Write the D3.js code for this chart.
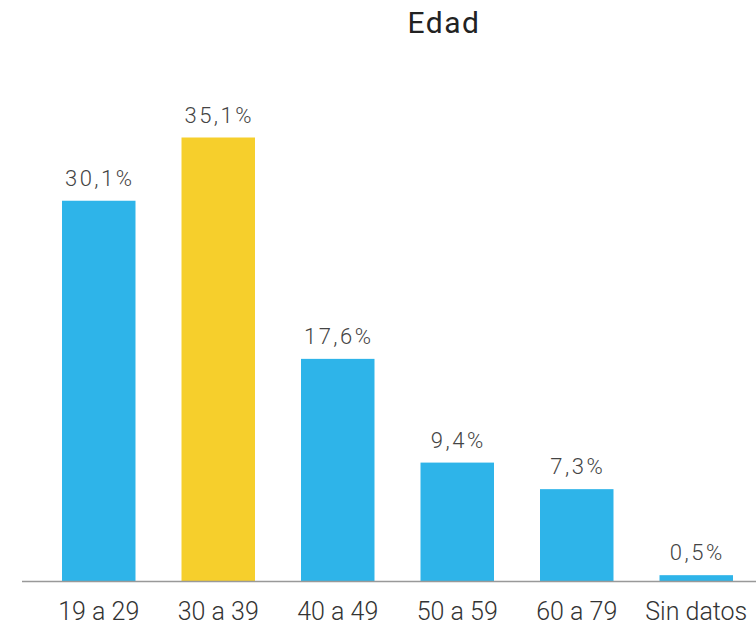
<!DOCTYPE html>
<html>
<head>
<meta charset="utf-8">
<script src="https://cdn.jsdelivr.net/npm/d3@7"></script>
<style>
  html, body { margin: 0; padding: 0; background: #fff; }
  svg { display: block; }
</style>
</head>
<body>
<svg id="chart" width="756" height="625"></svg>
<script>
const title = "Edad";
const categories = ["19 a 29", "30 a 39", "40 a 49", "50 a 59", "60 a 79", "Sin datos"];
const values = [30.1, 35.1, 17.6, 9.4, 7.3, 0.5];
const valueLabels = ["30,1%", "35,1%", "17,6%", "9,4%", "7,3%", "0,5%"];
const highlight = ["30 a 39"];

const svg = d3.select("#chart");
const baseline = 581.5;

const x = d3.scaleBand().domain(categories).range([39, 756]).paddingInner(0.385).paddingOuter(0.1925);
const y = d3.scaleLinear().domain([0, 35.1]).range([baseline, 137.5]);

const data = categories.map((c, i) => ({ c, v: values[i], label: valueLabels[i] }));

svg.append("text")
  .attr("x", 444).attr("y", 33)
  .attr("text-anchor", "middle")
  .attr("font-family", "Roboto, sans-serif")
  .attr("font-size", 30)
  .attr("letter-spacing", 1.5)
  .attr("fill", "#222")
  .text(title);

svg.selectAll("rect.bar").data(data).join("rect")
  .attr("class", "bar")
  .attr("x", d => x(d.c))
  .attr("width", x.bandwidth())
  .attr("y", d => y(d.v))
  .attr("height", d => baseline - y(d.v))
  .attr("fill", d => highlight.includes(d.c) ? "#F6CF2C" : "#2EB4E9");

svg.selectAll("text.val").data(data).join("text")
  .attr("class", "val")
  .attr("x", d => x(d.c) + x.bandwidth() / 2 + 1)
  .attr("y", d => y(d.v) - 15)
  .attr("text-anchor", "middle")
  .attr("font-family", "Roboto, sans-serif")
  .attr("font-weight", 300)
  .attr("font-size", 22)
  .attr("letter-spacing", 2.5)
  .attr("fill", "#444")
  .text(d => d.label);

const xAxis = svg.append("g")
  .attr("transform", `translate(0,${baseline})`)
  .call(d3.axisBottom(x).tickSize(0).tickPadding(0));
xAxis.select(".domain").remove();
xAxis.append("line")
  .attr("x1", 22).attr("x2", 756).attr("y1", 0).attr("y2", 0)
  .attr("stroke", "#999").attr("stroke-width", 1.5);
xAxis.selectAll(".tick text")
  .attr("dy", 0).attr("y", 38)
  .attr("font-family", "Roboto, sans-serif")
  .attr("font-weight", 300)
  .attr("font-size", 25)
  .attr("fill", "#333");
</script>
</body>
</html>
